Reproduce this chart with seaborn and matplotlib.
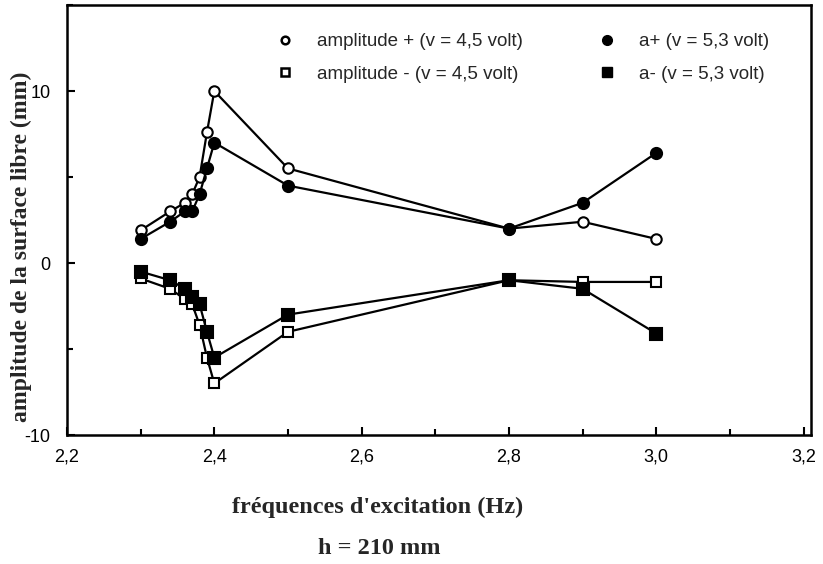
import numpy as np
import pandas as pd
import matplotlib
matplotlib.use('Agg')
import matplotlib.pyplot as plt
from matplotlib.lines import Line2D
from matplotlib.ticker import MultipleLocator
import seaborn as sns

# excitation frequencies (Hz)
freq = [2.30, 2.34, 2.36, 2.37, 2.38, 2.39, 2.40, 2.50, 2.80, 2.90, 3.00]

# free-surface amplitude (mm)
amp_plus_45 = [1.9, 3.0, 3.5, 4.0, 5.0, 7.6, 10.0, 5.5, 2.0, 2.4, 1.4]
amp_minus_45 = [-0.9, -1.5, -2.1, -2.4, -3.6, -5.5, -7.0, -4.0, -1.0, -1.1, -1.1]
amp_plus_53 = [1.4, 2.4, 3.0, 3.0, 4.0, 5.5, 7.0, 4.5, 2.0, 3.5, 6.4]
amp_minus_53 = [-0.5, -1.0, -1.5, -2.0, -2.4, -4.0, -5.5, -3.0, -1.0, -1.5, -4.1]

labels = ['amplitude + (v = 4,5 volt)', 'amplitude - (v = 4,5 volt)',
          'a+ (v = 5,3 volt)', 'a- (v = 5,3 volt)']

x_ticks = [2.2, 2.4, 2.6, 2.8, 3.0, 3.2]
x_ticklabels = ['2,2', '2,4', '2,6', '2,8', '3,0', '3,2']
y_ticks = [-10, 0, 10]
y_ticklabels = ['-10', '0', '10']

df = pd.DataFrame({
    'freq': freq * 4,
    'amp': amp_plus_45 + amp_minus_45 + amp_plus_53 + amp_minus_53,
    'serie': [l for l in labels for _ in freq],
})

sns.set_style('ticks')
plt.rcParams['font.family'] = ['Liberation Sans', 'DejaVu Sans']

fig = plt.figure(figsize=(8.23, 5.64), dpi=100)
ax = fig.add_axes([0.0814, 0.2287, 0.9040, 0.7624])

styles = {
    labels[0]: ('o', 'white', 7.5),
    labels[1]: ('s', 'white', 7),
    labels[2]: ('o', 'black', 8),
    labels[3]: ('s', 'black', 8),
}

for lab in labels:
    marker, face, ms = styles[lab]
    sub = df[df['serie'] == lab]
    sns.lineplot(data=sub, x='freq', y='amp', ax=ax, color='black', lw=1.6,
                 marker=marker, markersize=ms, markerfacecolor=face,
                 markeredgecolor='black', markeredgewidth=1.5, legend=False)

ax.set_xlim(2.2, 3.21)
ax.set_ylim(-10, 15)
ax.set_xticks(x_ticks)
ax.set_xticklabels(x_ticklabels)
ax.set_yticks(y_ticks)
ax.set_yticklabels(y_ticklabels)
ax.xaxis.set_minor_locator(MultipleLocator(0.1))
ax.yaxis.set_minor_locator(MultipleLocator(5))
ax.tick_params(which='both', direction='in', width=1.5, labelsize=13, colors='black')
ax.tick_params(which='major', length=6)
ax.tick_params(which='minor', length=4)
ax.tick_params(axis='x', pad=10)
ax.tick_params(axis='y', pad=12)
for s in ax.spines.values():
    s.set_linewidth(1.8)
    s.set_color('black')

ax.set_xlabel('')
ax.set_ylabel('amplitude de la surface libre (mm)', family='Liberation Serif',
              fontweight='bold', fontsize=17)
ax.yaxis.set_label_coords(-0.047, 0.437)

handles = [
    Line2D([], [], ls='none', marker='o', ms=5.5, mfc='white', mec='black', mew=1.8),
    Line2D([], [], ls='none', marker='s', ms=5.5, mfc='white', mec='black', mew=1.8),
    Line2D([], [], ls='none', marker='o', ms=7, mfc='black', mec='black'),
    Line2D([], [], ls='none', marker='s', ms=6.5, mfc='black', mec='black'),
]
ax.legend(handles, labels, ncol=2, frameon=False, fontsize=13.5,
          loc='upper left', bbox_to_anchor=(0.245, 0.974),
          columnspacing=3.5, handletextpad=0.7, labelspacing=0.83)

fig.text(0.459, 0.10, "fréquences d'excitation (Hz)", ha='center', va='center',
         family='Liberation Serif', fontweight='bold', fontsize=17.5)
fig.text(0.461, 0.028, 'h = 210 mm', ha='center', va='center',
         family='Liberation Serif', fontweight='bold', fontsize=17.5)

fig.savefig('out.png', dpi=100)
